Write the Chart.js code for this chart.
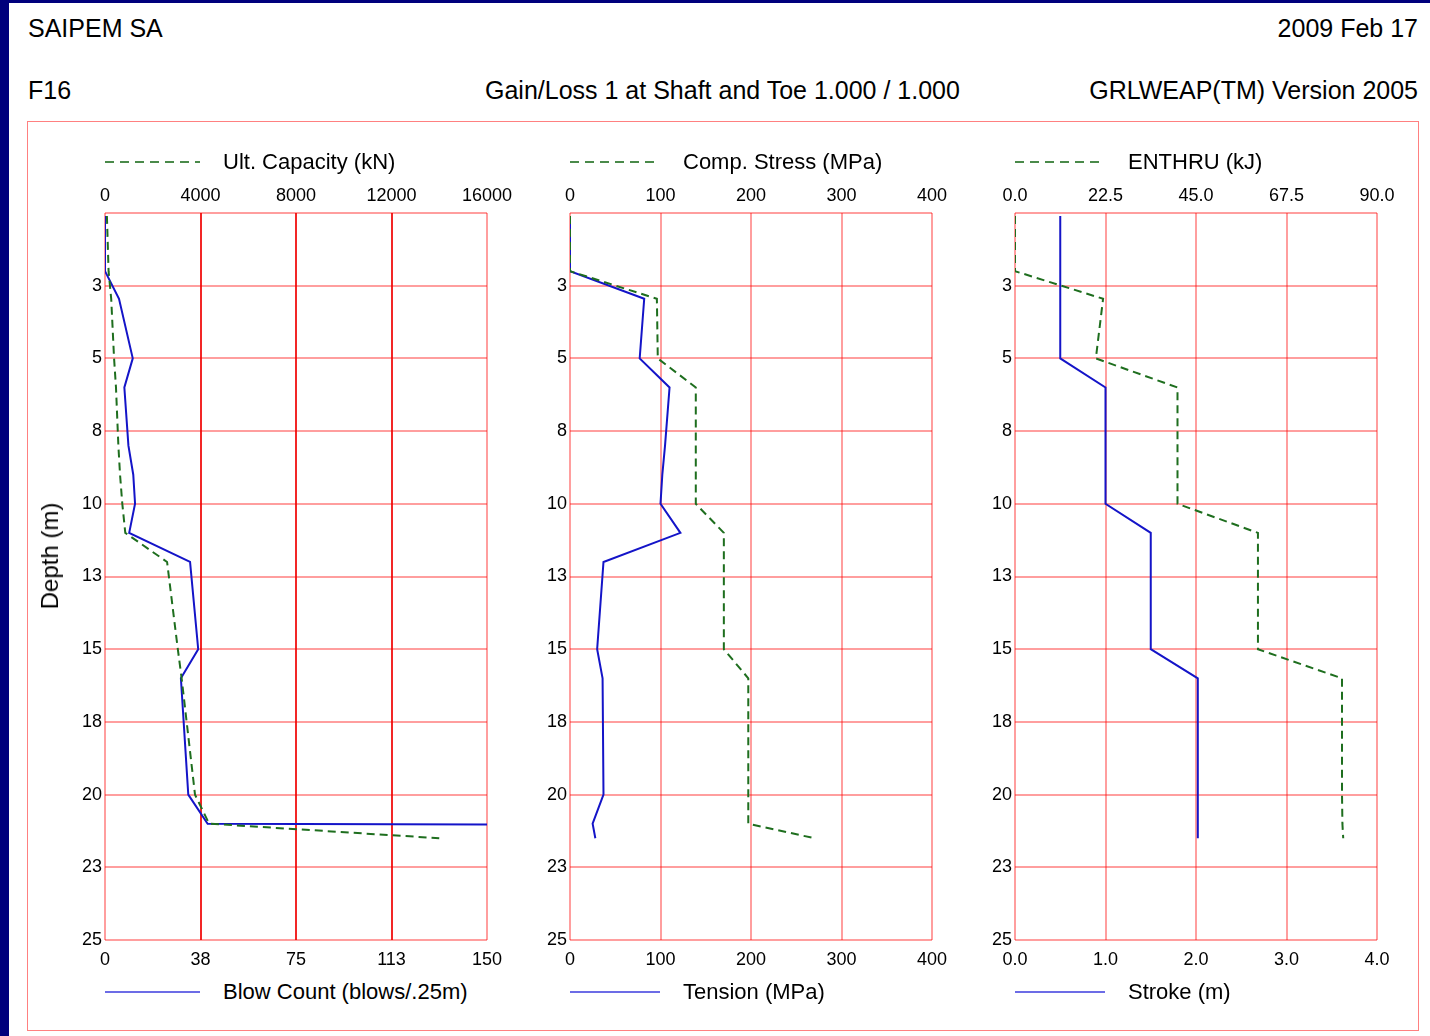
<!DOCTYPE html>
<html>
<head>
<meta charset="utf-8">
<script src="https://cdn.jsdelivr.net/npm/chart.js@4.4.1/dist/chart.umd.min.js"></script>
<style>
  html, body { margin: 0; padding: 0; }
  body { width: 1430px; height: 1036px; background: #00007c; position: relative; overflow: hidden;
         font-family: "Liberation Sans", Arial, sans-serif; color: #000; }
  #page { position: absolute; left: 9px; top: 3px; width: 1421px; height: 1033px; background: #fff; }
  .t { position: absolute; font-size: 25px; line-height: 30px; white-space: nowrap; }
  #frame { position: absolute; left: 27px; top: 121px; width: 1392px; height: 910px;
           border: 1.5px solid #ff8080; box-sizing: border-box; }
  canvas { position: absolute; }
  .lg { position: absolute; height: 30px; display: flex; align-items: center; font-size: 22px; white-space: nowrap; }
  .lg svg { margin-right: 23px; }
  #ytitle { position: absolute; left: 50px; top: 556px; font-size: 24px; line-height: 28px; white-space: nowrap;
            transform: translate(-50%, -50%) rotate(-90deg); }
</style>
</head>
<body>
<div id="page"></div>
<div class="t" style="left:28px; top:13px;">SAIPEM SA</div>
<div class="t" style="right:12px; top:13px;">2009 Feb 17</div>
<div class="t" style="left:28px; top:75px;">F16</div>
<div class="t" style="left:485px; top:75px;">Gain/Loss 1 at Shaft and Toe 1.000 / 1.000</div>
<div class="t" style="right:12px; top:75px;">GRLWEAP(TM) Version 2005</div>
<div id="frame"></div>

<canvas id="p1" width="487" height="800" style="left:30px; top:175px;"></canvas>
<canvas id="p2" width="452" height="800" style="left:510px; top:175px;"></canvas>
<canvas id="p3" width="452" height="800" style="left:955px; top:175px;"></canvas>
<div id="ytitle">Depth (m)</div>

<div id="legends"></div>

<script>
// depth (m) of each analysis point, shared by all series
const depths = [0.1, 2, 2.95, 5, 6, 8, 9, 10, 11, 12, 15, 16, 20, 21, 21.5];

// panel 1
const ultCapacity = [80, 150, 260, 380, 460, 560, 630, 725, 850, 2600, 3050, 3210, 3770, 4360, 14000];
const blowCount   = [0, 0, 5.5, 10.9, 7.6, 9.2, 11.1, 11.8, 9.5, 33.4, 36.6, 29.8, 32.7, 40.3, 2000];
// panel 2
const compStress  = [0, 0, 96, 97, 139, 139, 139, 139, 170, 170, 170, 197, 197, 197, 270];
const tension     = [0, 0, 82, 77, 110, 105, 102, 100, 122, 37, 30, 36, 37, 25, 28];
// panel 3
const enthru      = [0, 0, 21.9, 20.1, 40.4, 40.4, 40.4, 40.4, 60.4, 60.4, 60.4, 81.3, 81.3, 81.4, 81.6];
const stroke      = [0.5, 0.5, 0.5, 0.5, 1.0, 1.0, 1.0, 1.0, 1.5, 1.5, 1.5, 2.02, 2.02, 2.02, 2.02];

// ticks
const depthTicks  = [0, 2.5, 5, 7.5, 10, 12.5, 15, 17.5, 20, 22.5, 25];
const depthLabels = ['', '3', '5', '8', '10', '13', '15', '18', '20', '23', '25'];
const capTicks    = [0, 4000, 8000, 12000, 16000];
const capLabels   = ['0', '4000', '8000', '12000', '16000'];
const blowTicks   = [0, 37.5, 75, 112.5, 150];
const blowLabels  = ['0', '38', '75', '113', '150'];
const stressTicks = [0, 100, 200, 300, 400];
const stressLabels = ['0', '100', '200', '300', '400'];
const enthruTicks = [0, 22.5, 45, 67.5, 90];
const enthruLabels = ['0.0', '22.5', '45.0', '67.5', '90.0'];
const strokeTicks = [0, 1, 2, 3, 4];
const strokeLabels = ['0.0', '1.0', '2.0', '3.0', '4.0'];

const GREEN = '#1e6e1e';
const BLUE = '#1414c8';
const GRID = 'rgba(255,0,0,0.38)';
const GRID_DARK = 'rgba(240,0,0,0.85)';
const FONT = '"Liberation Sans", Arial, sans-serif';

function pts(vals) {
  return depths.map(function(d, i){ return { x: vals[i], y: d }; });
}

function fixedTicks(values) {
  return function(scale) { scale.ticks = values.map(function(v){ return { value: v }; }); };
}

function makePanel(id, p) {
  const tickFont = { family: FONT, size: 18 };
  new Chart(document.getElementById(id), {
    type: 'scatter',
    data: {
      datasets: [
        { label: p.topName, data: pts(p.topVals), xAxisID: 'xTop', showLine: true, pointRadius: 0,
          borderColor: GREEN, borderWidth: 2, borderDash: [8, 5] },
        { label: p.botName, data: pts(p.botVals), xAxisID: 'xBot', showLine: true, pointRadius: 0,
          borderColor: BLUE, borderWidth: 2 }
      ]
    },
    options: {
      responsive: false,
      animation: false,
      events: [],
      layout: { padding: { right: 30 } },
      plugins: { legend: { display: false }, tooltip: { enabled: false } },
      scales: {
        y: {
          type: 'linear', reverse: true, min: 0, max: 25,
          afterBuildTicks: fixedTicks(depthTicks),
          afterFit: function(s){ s.width = p.yWidth; s.paddingTop = 0; s.paddingBottom = 0; },
          grid: { color: GRID, lineWidth: 2, drawTicks: false },
          border: { display: false },
          ticks: { font: tickFont, color: '#000', padding: 3,
                   callback: function(v, i){ return depthLabels[i]; } }
        },
        xTop: {
          type: 'linear', position: 'top', min: p.topTicks[0], max: p.topTicks[p.topTicks.length - 1],
          afterBuildTicks: fixedTicks(p.topTicks),
          afterFit: function(s){ s.height = 38; s.paddingLeft = 0; s.paddingRight = 0; },
          grid: { drawTicks: false, lineWidth: 2,
                  color: function(c){ return (p.darkInner && c.index > 0 && c.index < 4) ? GRID_DARK : GRID; } },
          border: { display: false },
          ticks: { font: tickFont, color: '#000', padding: 6, maxRotation: 0,
                   callback: function(v, i){ return p.topLabels[i]; } }
        },
        xBot: {
          type: 'linear', position: 'bottom', min: p.botTicks[0], max: p.botTicks[p.botTicks.length - 1],
          afterBuildTicks: fixedTicks(p.botTicks),
          afterFit: function(s){ s.height = 35; s.paddingLeft = 0; s.paddingRight = 0; },
          grid: { display: false, drawTicks: false },
          border: { display: false },
          ticks: { font: tickFont, color: '#000', padding: 9, maxRotation: 0,
                   callback: function(v, i){ return p.botLabels[i]; } }
        }
      }
    }
  });
}

const panels = [
  { id: 'p1', yWidth: 75, darkInner: true, left: 105, key: 95,
    topName: 'Ult. Capacity (kN)', topVals: ultCapacity, topTicks: capTicks, topLabels: capLabels,
    botName: 'Blow Count (blows/.25m)', botVals: blowCount, botTicks: blowTicks, botLabels: blowLabels },
  { id: 'p2', yWidth: 60, left: 570, key: 90,
    topName: 'Comp. Stress (MPa)', topVals: compStress, topTicks: stressTicks, topLabels: stressLabels,
    botName: 'Tension (MPa)', botVals: tension, botTicks: stressTicks, botLabels: stressLabels },
  { id: 'p3', yWidth: 60, left: 1015, key: 90,
    topName: 'ENTHRU (kJ)', topVals: enthru, topTicks: enthruTicks, topLabels: enthruLabels,
    botName: 'Stroke (m)', botVals: stroke, botTicks: strokeTicks, botLabels: strokeLabels }
];

// legend rows above and below each panel
function legendRow(left, top, w, text, color, dashed) {
  var el = document.createElement('div');
  el.className = 'lg';
  el.style.left = left + 'px';
  el.style.top = top + 'px';
  el.innerHTML = '<svg width="' + w + '" height="4"><line x1="0" y1="2" x2="' + w + '" y2="2" stroke="' + color +
    '" stroke-width="2"' + (dashed ? ' stroke-dasharray="9,6"' : '') + '/></svg><span>' + text + '</span>';
  document.getElementById('legends').appendChild(el);
}

panels.forEach(function(p){
  makePanel(p.id, p);
  legendRow(p.left, 147, p.key, p.topName, '#4a8a4a', true);
  legendRow(p.left, 977, p.key, p.botName, '#6c6ce6', false);
});
</script>
</body>
</html>
